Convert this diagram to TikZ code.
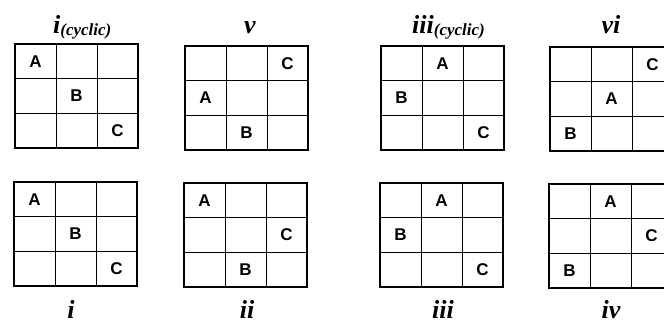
\documentclass[tikz,border=0pt]{standalone}
\usepackage{fontspec}
\setmainfont{Liberation Serif}
\newfontfamily\lettfont{Liberation Sans}
\tikzset{
  outerframe/.style={line width=2.4pt},
  innerline/.style={line width=0.8pt},
  cellletter/.style={font=\lettfont\bfseries\fontsize{17}{17}\selectfont, inner sep=0pt},
  gridtitle/.style={font=\bfseries\itshape\fontsize{26}{26}\selectfont, inner sep=0pt},
}
\newcommand\drawgrid[2]{%
  \draw[innerline] ({#1+41},#2) -- ({#1+41},{#2+104});
  \draw[innerline] ({#1+82},#2) -- ({#1+82},{#2+104});
  \draw[innerline] (#1,{#2+34.67}) -- ({#1+123},{#2+34.67});
  \draw[innerline] (#1,{#2+69.33}) -- ({#1+123},{#2+69.33});
  \draw[outerframe] (#1,#2) rectangle ({#1+123},{#2+104});
}
% name, gx, gy, row, col, letter
\newcommand\lettercell[6]{%
  \node[cellletter] (#1) at ({#2+(#5-0.5)*41},{#3+(#4-0.5)*34.67}) {#6};
}
\newcommand\cyc{\raisebox{-2pt}{\fontsize{17}{17}\selectfont(cyclic)}}
\begin{document}
\begin{tikzpicture}[x=1pt,y=-1pt]
\useasboundingbox (0,0) rectangle (664,325);
\clip (0,0) rectangle (664,325);
% top row
\drawgrid{15}{44}
\lettercell{tA}{15}{44}{1}{1}{A}
\lettercell{tB}{15}{44}{2}{2}{B}
\lettercell{tC}{15}{44}{3}{3}{C}
\drawgrid{185}{46}
\lettercell{vC}{185}{46}{1}{3}{C}
\lettercell{vA}{185}{46}{2}{1}{A}
\lettercell{vB}{185}{46}{3}{2}{B}
\drawgrid{381}{46}
\lettercell{icA}{381}{46}{1}{2}{A}
\lettercell{icB}{381}{46}{2}{1}{B}
\lettercell{icC}{381}{46}{3}{3}{C}
\drawgrid{550}{47}
\lettercell{viC}{550}{47}{1}{3}{C}
\lettercell{viA}{550}{47}{2}{2}{A}
\lettercell{viB}{550}{47}{3}{1}{B}
% bottom row
\drawgrid{14}{182}
\lettercell{iA}{14}{182}{1}{1}{A}
\lettercell{iB}{14}{182}{2}{2}{B}
\lettercell{iC}{14}{182}{3}{3}{C}
\drawgrid{184}{183}
\lettercell{iiA}{184}{183}{1}{1}{A}
\lettercell{iiC}{184}{183}{2}{3}{C}
\lettercell{iiB}{184}{183}{3}{2}{B}
\drawgrid{380}{183}
\lettercell{iiiA}{380}{183}{1}{2}{A}
\lettercell{iiiB}{380}{183}{2}{1}{B}
\lettercell{iiiC}{380}{183}{3}{3}{C}
\drawgrid{549}{184}
\lettercell{ivA}{549}{184}{1}{2}{A}
\lettercell{ivC}{549}{184}{2}{3}{C}
\lettercell{ivB}{549}{184}{3}{1}{B}
% titles
\node[gridtitle, anchor=base west] (t1) at (53,33) {i\cyc};
\node[gridtitle, anchor=base] (t2) at (250,33) {v};
\node[gridtitle, anchor=base west] (t3) at (412,33) {iii\cyc};
\node[gridtitle, anchor=base] (t4) at (611,33) {vi};
\node[gridtitle, anchor=base] (b1) at (71,318) {i};
\node[gridtitle, anchor=base] (b2) at (247,318) {ii};
\node[gridtitle, anchor=base] (b3) at (443,318) {iii};
\node[gridtitle, anchor=base] (b4) at (611,318) {iv};
\end{tikzpicture}
\end{document}
